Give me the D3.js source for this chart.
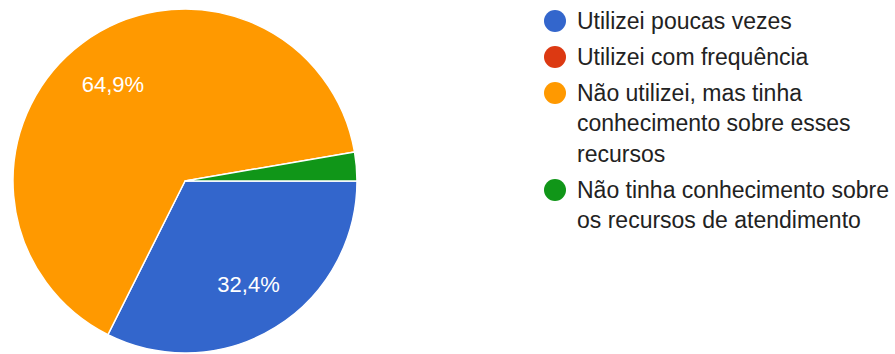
<!DOCTYPE html>
<html>
<head>
<meta charset="utf-8">
<script src="https://cdn.jsdelivr.net/npm/d3@7"></script>
<style>
  html, body { margin: 0; padding: 0; background: #ffffff; }
  svg { display: block; }
  text { font-family: "Liberation Sans", Arial, sans-serif; }
</style>
</head>
<body>
<svg id="chart" width="895" height="354"></svg>
<script>
// Survey answers and their share of responses (%)
const categories = [
  "Utilizei poucas vezes",
  "Utilizei com frequência",
  "Não utilizei, mas tinha conhecimento sobre esses recursos",
  "Não tinha conhecimento sobre os recursos de atendimento"
];
const legendLines = [
  ["Utilizei poucas vezes"],
  ["Utilizei com frequência"],
  ["Não utilizei, mas tinha", "conhecimento sobre esses", "recursos"],
  ["Não tinha conhecimento sobre", "os recursos de atendimento"]
];
const values = [32.4, 0, 64.9, 2.7];
const colors = ["#3366cc", "#dc3912", "#ff9900", "#109618"];

const svg = d3.select("#chart");
const cx = 185, cy = 181, radius = 172;

const color = d3.scaleOrdinal().domain(categories).range(colors);

const data = categories.map((c, i) => ({ category: c, value: values[i], lines: legendLines[i] }));

const pie = d3.pie()
  .sort(null)
  .value(d => d.value)
  .startAngle(Math.PI / 2)
  .endAngle(Math.PI / 2 + 2 * Math.PI);

const arcs = pie(data).filter(a => a.data.value > 0);

const arc = d3.arc().innerRadius(0).outerRadius(radius);
const labelArc = d3.arc().innerRadius(121).outerRadius(121);

const g = svg.append("g").attr("transform", `translate(${cx},${cy})`);

g.selectAll("path.slice")
  .data(arcs)
  .join("path")
  .attr("class", "slice")
  .attr("d", arc)
  .attr("fill", d => color(d.data.category))
  .attr("stroke", "#ffffff")
  .attr("stroke-width", 1.5)
  .attr("stroke-linejoin", "round");

const fmt = v => d3.format(".1f")(v).replace(".", ",") + "%";

g.selectAll("text.pct")
  .data(arcs.filter(a => a.data.value >= 5))
  .join("text")
  .attr("class", "pct")
  .attr("transform", d => `translate(${labelArc.centroid(d)})`)
  .attr("text-anchor", "middle")
  .attr("dy", "0.36em")
  .attr("fill", "#ffffff")
  .attr("font-size", 22)
  .text(d => fmt(d.data.value));

// Legend
const legendX = 555, dotR = 11, textX = 577;
const lineH = 30.5, entryGap = 5.5;
let y = 21;
const legend = svg.append("g");
data.forEach(d => {
  const item = legend.append("g").attr("transform", `translate(0,${y})`);
  item.append("circle")
    .attr("cx", legendX)
    .attr("cy", 0)
    .attr("r", dotR)
    .attr("fill", color(d.category));
  const t = item.append("text")
    .attr("x", textX)
    .attr("y", 0)
    .attr("fill", "#222222")
    .attr("font-size", 23);
  d.lines.forEach((ln, k) => {
    t.append("tspan")
      .attr("x", textX)
      .attr("y", k * lineH)
      .attr("dy", "0.33em")
      .text(ln);
  });
  y += d.lines.length * lineH + entryGap;
});
</script>
</body>
</html>
